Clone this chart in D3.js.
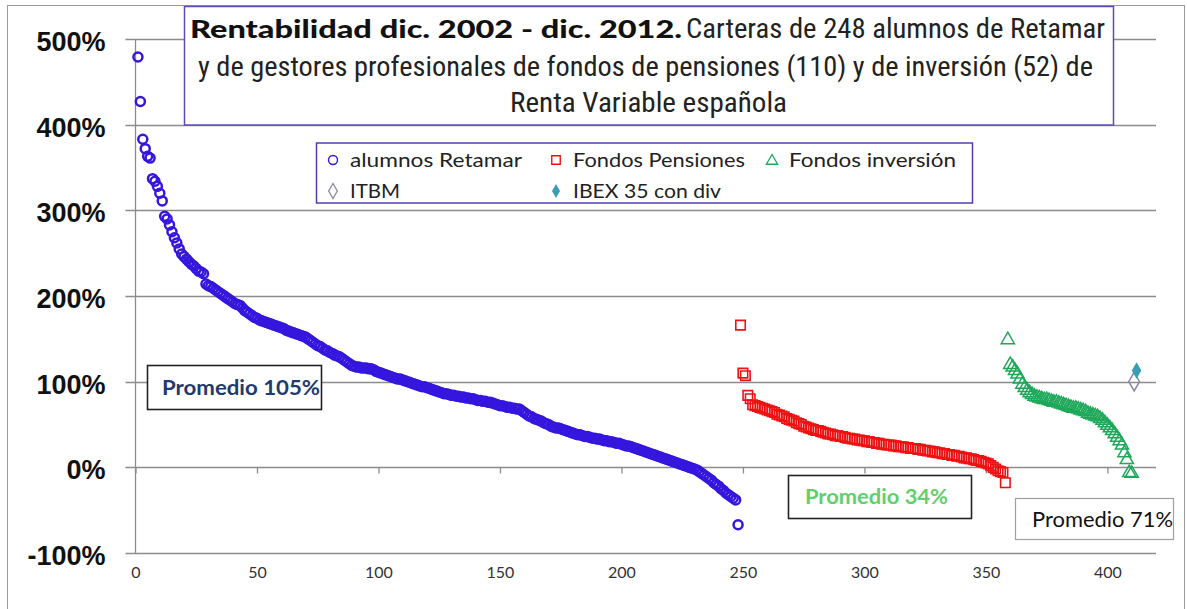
<!DOCTYPE html>
<html>
<head>
<meta charset="utf-8">
<script src="https://cdn.jsdelivr.net/npm/d3@7"></script>
<style>
  body { margin: 0; background: #fff; }
  svg { display: block; }
</style>
</head>
<body>
<div id="chart"></div>
<script>
// rentabilidad (%) ordenada de mayor a menor
const retamar = [
  479, 427, 383, 372, 363, 361, 337, 334, 328, 320,
  311, 293, 290, 283, 275, 268, 262, 255, 249, 246,
  243, 240, 237, 235, 232, 229, 228, 226, 214, 212,
  211, 209, 207, 205, 203, 201, 199, 197, 195, 193,
  191, 190, 189, 186, 183, 181, 179, 177, 175, 174,
  172, 171, 170, 169, 168, 167, 166, 165, 164, 163,
  162, 160, 159, 158, 157, 156, 155, 154, 153, 152,
  150, 148, 146, 144, 142, 141, 139, 137, 136, 134,
  133, 131, 130, 129, 127, 125, 123, 121, 119, 118,
  117, 117, 116, 116, 116, 115, 115, 114, 112, 111,
  110, 109, 108, 107, 106, 105, 104, 103, 103, 102,
  101, 100, 99, 98, 97, 96, 95, 94, 94, 93,
  92, 91, 90, 89, 88, 87, 86, 86, 85, 84,
  84, 83, 83, 82, 82, 81, 81, 80, 80, 79,
  78, 78, 77, 77, 76, 76, 75, 74, 73, 72,
  72, 71, 70, 70, 69, 69, 68, 68, 66, 64,
  62, 60, 59, 57, 56, 55, 54, 52, 51, 50,
  48, 47, 46, 46, 45, 44, 43, 42, 41, 40,
  39, 38, 38, 37, 36, 36, 35, 34, 34, 33,
  33, 32, 31, 31, 30, 30, 29, 28, 28, 27,
  26, 25, 25, 24, 23, 22, 21, 20, 19, 18,
  17, 16, 15, 14, 13, 12, 11, 10, 9, 8,
  7, 6, 5, 4, 3, 2, 1, 0, -1, -2,
  -3, -5, -7, -9, -11, -13, -15, -18, -20, -22,
  -25, -27, -30, -32, -34, -36, -38, -67
];
const pensiones = [
  166, 110, 107, 84, 80, 73, 72, 71, 70, 69,
  68, 67, 66, 65, 64, 62, 61, 60, 59, 57,
  56, 55, 54, 52, 51, 50, 48, 47, 46, 45,
  44, 43, 43, 42, 41, 40, 39, 39, 38, 37,
  37, 36, 36, 35, 34, 34, 33, 33, 32, 32,
  31, 31, 30, 30, 29, 29, 28, 28, 27, 27,
  26, 26, 26, 25, 25, 24, 24, 24, 23, 23,
  22, 22, 22, 21, 21, 20, 20, 19, 19, 18,
  18, 17, 17, 16, 16, 15, 15, 14, 14, 13,
  13, 12, 11, 11, 10, 10, 9, 8, 8, 7,
  6, 5, 4, 2, 0, -2, -4, -5, -6, -18
];
const inversion = [
  150, 121, 118, 114, 110, 104, 98, 94, 91, 88,
  86, 84, 83, 82, 81, 80, 80, 79, 78, 77,
  77, 76, 75, 74, 73, 72, 71, 70, 70, 69,
  68, 67, 66, 64, 63, 62, 61, 60, 58, 56,
  53, 50, 47, 44, 40, 36, 32, 27, 18, 10,
  -5, -6
];
const itbm = [100];
const ibex = [113];

const yTicks = [-100, 0, 100, 200, 300, 400, 500];
const xTicks = [0, 50, 100, 150, 200, 250, 300, 350, 400];

const legendItems = [
  {name: "alumnos Retamar", sym: "circle", w: 172},
  {name: "Fondos Pensiones", sym: "square", w: 172},
  {name: "Fondos inversión", sym: "triangle", w: 167},
  {name: "ITBM", sym: "diamond", w: 50},
  {name: "IBEX 35 con div", sym: "fdiamond", w: 148}
];

const width = 1187, height = 609;
const blue = "#3516de", red = "#ec1313", green = "#1ea85a", gray = "#8d86a6", teal = "#3a9db3";

// series -> points, x = posicion en la serie completa
let n = 0;
const toPts = arr => arr.map(v => ({x: ++n, y: v}));
const pRet = toPts(retamar);
const pPen = toPts(pensiones);
const pInv = toPts(inversion);
const pItbm = toPts(itbm);
const pIbex = toPts(ibex);

const svg = d3.select("#chart").append("svg")
  .attr("width", width).attr("height", height);

svg.append("rect")
  .attr("x", 7.5).attr("y", 5.5)
  .attr("width", 1177).attr("height", 620)
  .attr("fill", "#fff").attr("stroke", "#9a9a9a");

const x = d3.scaleLinear().domain([0, 420]).range([135.5, 1156]);
const y = d3.scaleLinear().domain([-100, 500]).range([553, 39]);

// gridlines
svg.append("g")
  .selectAll("line")
  .data(yTicks)
  .join("line")
    .attr("x1", x(0) - 10)
    .attr("x2", x(420))
    .attr("y1", d => Math.round(y(d)) + 0.5)
    .attr("y2", d => Math.round(y(d)) + 0.5)
    .attr("stroke", "#8c8c8c")
    .attr("stroke-width", 1.3);

// eje vertical
svg.append("line")
  .attr("x1", x(0)).attr("x2", x(0))
  .attr("y1", y(500)).attr("y2", y(-100))
  .attr("stroke", "#8c8c8c").attr("stroke-width", 1.3);

// y labels
svg.append("g")
  .attr("transform", `translate(${x(0)},0)`)
  .call(d3.axisLeft(y).tickValues(yTicks).tickSize(0).tickPadding(30).tickFormat(d => d + "%"))
  .call(g => g.select(".domain").remove())
  .call(g => g.selectAll("text")
    .attr("font-family", "Liberation Sans, Arial, sans-serif")
    .attr("font-weight", "bold")
    .attr("font-size", 27)
    .attr("fill", "#111")
    .attr("dy", "0.42em"));

// ticks on the 0% line
svg.append("g")
  .attr("transform", `translate(0,${Math.round(y(0)) + 0.5})`)
  .call(d3.axisBottom(x).tickValues(xTicks).tickSize(6).tickFormat(""))
  .call(g => g.select(".domain").remove())
  .call(g => g.selectAll("line").attr("stroke", "#8c8c8c").attr("stroke-width", 1.3));

// x labels at the bottom
svg.append("g")
  .attr("transform", `translate(0,${y(-100)})`)
  .call(d3.axisBottom(x).tickValues(xTicks).tickSize(0).tickPadding(14))
  .call(g => g.select(".domain").remove())
  .call(g => g.selectAll("text")
    .attr("font-family", "Lato, sans-serif")
    .attr("font-size", 16)
    .attr("fill", "#333"));

// puntos
svg.append("g")
  .selectAll("circle")
  .data(pRet)
  .join("circle")
    .attr("cx", d => x(d.x))
    .attr("cy", d => y(d.y))
    .attr("r", 4.5)
    .attr("fill", "none")
    .attr("stroke", blue)
    .attr("stroke-width", 2.5);

const sym = (type, size) => d3.symbol().type(type).size(size)();

svg.append("g")
  .selectAll("path")
  .data(pPen)
  .join("path")
    .attr("transform", d => `translate(${x(d.x)},${y(d.y)})`)
    .attr("d", sym(d3.symbolSquare, 90))
    .attr("fill", "none")
    .attr("stroke", red)
    .attr("stroke-width", 1.6);

svg.append("g")
  .selectAll("path")
  .data(pInv)
  .join("path")
    .attr("transform", d => `translate(${x(d.x)},${y(d.y) + 1})`)
    .attr("d", sym(d3.symbolTriangle, 75))
    .attr("fill", "none")
    .attr("stroke", green)
    .attr("stroke-width", 1.5);

svg.append("g")
  .selectAll("path")
  .data(pItbm)
  .join("path")
    .attr("transform", d => `translate(${x(d.x)},${y(d.y)})`)
    .attr("d", sym(d3.symbolDiamond, 100))
    .attr("fill", "none")
    .attr("stroke", gray)
    .attr("stroke-width", 1.5);

svg.append("g")
  .selectAll("path")
  .data(pIbex)
  .join("path")
    .attr("transform", d => `translate(${x(d.x)},${y(d.y)})`)
    .attr("d", sym(d3.symbolDiamond, 80))
    .attr("fill", teal);

// title box
const tb = svg.append("g");
tb.append("rect")
  .attr("x", 184.5).attr("y", 6.5).attr("width", 929).attr("height", 118.5)
  .attr("fill", "#fff").attr("stroke", "#5a4cb8").attr("stroke-width", 1.5);
tb.append("text")
  .attr("x", 190).attr("y", 38)
  .attr("font-family", "Lato, sans-serif").attr("font-weight", "900")
  .attr("font-size", 24).attr("fill", "#111")
  .attr("textLength", 492).attr("lengthAdjust", "spacingAndGlyphs")
  .text("Rentabilidad  dic. 2002 - dic. 2012.");
const narrow = "Liberation Sans Narrow, Arial Narrow, Roboto Condensed, Roboto, sans-serif";
[
  {t: "Carteras de 248 alumnos de Retamar", x: 686, y: 38, w: 419},
  {t: "y de gestores profesionales de fondos  de pensiones (110) y de inversión (52) de", x: 198, y: 76, w: 895},
  {t: "Renta Variable española", x: 510, y: 112, w: 277}
].forEach(l => {
  tb.append("text")
    .attr("x", l.x).attr("y", l.y)
    .attr("font-family", narrow).attr("font-size", 27).attr("fill", "#222")
    .attr("textLength", l.w).attr("lengthAdjust", "spacingAndGlyphs")
    .text(l.t);
});

// legend
const lg = svg.append("g");
lg.append("rect")
  .attr("x", 316.5).attr("y", 143).attr("width", 656).attr("height", 60)
  .attr("fill", "#fff").attr("stroke", "#5040b0").attr("stroke-width", 1.5);
const lpos = [[333, 160], [556, 160], [772, 160], [333, 191], [556, 191]];
legendItems.forEach((it, i) => {
  const [lx, ly] = lpos[i];
  const g = lg.append("g").attr("transform", `translate(${lx},${ly})`);
  if (it.sym === "circle") {
    g.append("circle").attr("r", 4.5).attr("fill", "none").attr("stroke", blue).attr("stroke-width", 1.4);
  } else if (it.sym === "square") {
    g.append("path").attr("d", sym(d3.symbolSquare, 72)).attr("fill", "none").attr("stroke", red).attr("stroke-width", 1.4);
  } else if (it.sym === "triangle") {
    g.append("path").attr("transform", "translate(0,1)").attr("d", sym(d3.symbolTriangle, 55)).attr("fill", "none").attr("stroke", green).attr("stroke-width", 1.3);
  } else if (it.sym === "diamond") {
    g.append("path").attr("d", sym(d3.symbolDiamond, 65)).attr("fill", "none").attr("stroke", gray).attr("stroke-width", 1.3);
  } else {
    g.append("path").attr("d", sym(d3.symbolDiamond, 55)).attr("fill", teal);
  }
  g.append("text")
    .attr("x", 17).attr("y", 7)
    .attr("font-family", "Lato, sans-serif").attr("font-size", 20).attr("fill", "#222")
    .attr("textLength", it.w).attr("lengthAdjust", "spacingAndGlyphs")
    .text(it.name);
});

// cajas de promedio
const boxes = [
  {t: "Promedio  105%", x: 147, y: 365, w: 174, h: 44, tx: 162, ty: 395, tw: 158, color: "#1f3a6e", bold: true, stroke: "#222"},
  {t: "Promedio 34%", x: 788, y: 475, w: 183, h: 43, tx: 805, ty: 504, tw: 143, color: "#62cf6c", bold: true, stroke: "#222"},
  {t: "Promedio 71%", x: 1015, y: 498, w: 158, h: 41, tx: 1032, ty: 527, tw: 141, color: "#111", bold: false, stroke: "#a0a0a0"}
];
boxes.forEach(b => {
  svg.append("rect")
    .attr("x", b.x + 0.5).attr("y", b.y + 0.5).attr("width", b.w).attr("height", b.h)
    .attr("fill", "#fff").attr("stroke", b.stroke).attr("stroke-width", b.bold ? 1.6 : 1.2);
  svg.append("text")
    .attr("x", b.tx).attr("y", b.ty)
    .attr("font-family", "Lato, sans-serif")
    .attr("font-weight", b.bold ? "bold" : "normal")
    .attr("font-size", 21).attr("fill", b.color)
    .attr("textLength", b.tw).attr("lengthAdjust", "spacingAndGlyphs")
    .text(b.t);
});
</script>
</body>
</html>
